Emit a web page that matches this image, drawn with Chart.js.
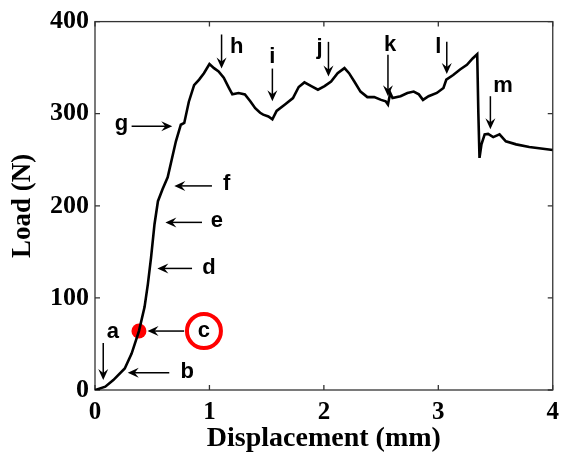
<!DOCTYPE html>
<html>
<head>
<meta charset="utf-8">
<script src="https://cdn.jsdelivr.net/npm/chart.js@4.4.1/dist/chart.umd.min.js"></script>
<style>
  html, body { margin: 0; padding: 0; background: #fff; }
  #box { width: 567px; height: 459px; }
</style>
</head>
<body>
<div id="box"><canvas id="myChart"></canvas></div>
<script>
'use strict';

// load-displacement curve
let dispMM = [0, 0.09, 0.16, 0.26, 0.32, 0.384, 0.433, 0.462, 0.49, 0.52, 0.55, 0.59, 0.635, 0.707, 0.75, 0.78,
  0.82, 0.866, 0.91, 0.952, 1.0, 1.04, 1.08, 1.125, 1.17, 1.2, 1.255, 1.31, 1.357, 1.4, 1.443, 1.47, 1.515,
  1.55, 1.587, 1.66, 1.73, 1.78, 1.83, 1.89, 1.948, 2.006, 2.063, 2.12, 2.18, 2.22, 2.266, 2.32, 2.38, 2.44,
  2.5, 2.54, 2.56, 2.58, 2.6, 2.67, 2.73, 2.785, 2.83, 2.866, 2.915, 2.987, 3.045, 3.07, 3.13, 3.19, 3.25,
  3.3, 3.34, 3.35, 3.36, 3.377, 3.405, 3.435, 3.48, 3.535, 3.59, 3.68, 3.795, 4.0];
let loadN = [0, 3.6, 10.8, 23.4, 39.6, 64, 90, 115, 144, 180, 205, 218, 231, 270, 288, 290,
  313, 331, 337, 344, 354, 349.5, 346, 339, 328, 321, 322.5, 321, 313.5, 306, 301, 299, 297,
  294, 303, 310, 317, 329, 334, 330, 326, 330, 335, 344, 349.5, 344, 335, 324, 318, 318,
  315, 313.5, 310, 322.5, 317, 319, 322.5, 324, 321, 315, 319, 322.5, 328, 337, 342, 348, 353,
  360, 364.6, 300, 252, 266.7, 277.5, 278, 274.6, 277.5, 270, 266.7, 263.8, 260.5];

// highlighted point "c"
let markX = [0.384];
let markY = [64];

let xTicks = [0, 1, 2, 3, 4];
let yTicks = [0, 100, 200, 300, 400];

// labelled arrows: letter, letter pos, arrow tail, arrow head (data units)
let notes = [
  { t: 'a', lx: 0.156, ly: 62.7, x1: 0.072, y1: 51, x2: 0.072, y2: 10.8 },
  { t: 'b', lx: 0.805, ly: 19.5, x1: 0.649, y1: 18.7, x2: 0.286, y2: 18.7 },
  { t: 'c', lx: 0.952, ly: 64, x1: 0.779, y1: 64, x2: 0.459, y2: 64, ring: true },
  { t: 'd', lx: 0.996, ly: 132, x1: 0.848, y1: 132, x2: 0.545, y2: 132 },
  { t: 'e', lx: 1.065, ly: 184, x1: 0.935, y1: 182, x2: 0.615, y2: 182 },
  { t: 'f', lx: 1.15, ly: 224, x1: 1.022, y1: 221.6, x2: 0.693, y2: 221.6 },
  { t: 'g', lx: 0.231, ly: 288.6, x1: 0.32, y1: 286.5, x2: 0.675, y2: 286.5 },
  { t: 'h', lx: 1.238, ly: 373, x1: 1.106, y1: 386, x2: 1.106, y2: 349 },
  { t: 'i', lx: 1.55, ly: 362, x1: 1.55, y1: 349, x2: 1.55, y2: 313.5 },
  { t: 'j', lx: 1.963, ly: 371, x1: 2.04, y1: 378, x2: 2.04, y2: 340.5 },
  { t: 'k', lx: 2.578, ly: 375, x1: 2.56, y1: 364, x2: 2.56, y2: 319 },
  { t: 'l', lx: 3.0, ly: 373, x1: 3.074, y1: 378, x2: 3.074, y2: 343 },
  { t: 'm', lx: 3.565, ly: 330, x1: 3.455, y1: 319, x2: 3.455, y2: 283 }
];

const ctx = document.getElementById('myChart').getContext('2d');
const serif = '"Liberation Serif", "Times New Roman", serif';

let curve = [];
for (let i = 0; i < dispMM.length; i++) {
  curve.push({ x: dispMM[i], y: loadN[i] });
}
let marks = [];
for (let i = 0; i < markX.length; i++) {
  marks.push({ x: markX[i], y: markY[i] });
}

function drawArrow(c, x1, y1, x2, y2) {
  let ang = Math.atan2(y2 - y1, x2 - x1);
  let len = 11;
  let wid = 5;
  c.beginPath();
  c.moveTo(x1, y1);
  c.lineTo(x2 - Math.cos(ang) * 6, y2 - Math.sin(ang) * 6);
  c.stroke();
  c.beginPath();
  c.moveTo(x2, y2);
  c.lineTo(x2 - Math.cos(ang) * len - Math.sin(ang) * wid, y2 - Math.sin(ang) * len + Math.cos(ang) * wid);
  c.lineTo(x2 - Math.cos(ang) * (len - 4), y2 - Math.sin(ang) * (len - 4));
  c.lineTo(x2 - Math.cos(ang) * len + Math.sin(ang) * wid, y2 - Math.sin(ang) * len - Math.cos(ang) * wid);
  c.closePath();
  c.fill();
}

let framePlugin = {
  id: 'frame',
  beforeDatasetsDraw(chart) {
    let c = chart.ctx;
    let a = chart.chartArea;
    let xs = chart.scales.x;
    let ys = chart.scales.y;
    c.save();
    c.strokeStyle = '#333';
    c.lineWidth = 1.3;
    c.strokeRect(a.left, a.top, a.right - a.left, a.bottom - a.top);
    // inward ticks on all sides
    c.beginPath();
    for (let i = 0; i < xTicks.length; i++) {
      let px = xs.getPixelForValue(xTicks[i]);
      c.moveTo(px, a.bottom); c.lineTo(px, a.bottom - 5);
      c.moveTo(px, a.top); c.lineTo(px, a.top + 5);
    }
    for (let i = 0; i < yTicks.length; i++) {
      let py = ys.getPixelForValue(yTicks[i]);
      c.moveTo(a.left, py); c.lineTo(a.left + 5, py);
      c.moveTo(a.right, py); c.lineTo(a.right - 5, py);
    }
    c.stroke();
    c.restore();
  },
  afterDatasetsDraw(chart) {
    let c = chart.ctx;
    let xs = chart.scales.x;
    let ys = chart.scales.y;
    c.save();
    c.strokeStyle = '#000';
    c.fillStyle = '#000';
    c.lineWidth = 1.5;
    c.font = 'bold 22px "Liberation Sans", Arial, sans-serif';
    c.textAlign = 'center';
    c.textBaseline = 'middle';
    for (let i = 0; i < notes.length; i++) {
      let n = notes[i];
      drawArrow(c, xs.getPixelForValue(n.x1), ys.getPixelForValue(n.y1),
        xs.getPixelForValue(n.x2), ys.getPixelForValue(n.y2));
      let lx = xs.getPixelForValue(n.lx);
      let ly = ys.getPixelForValue(n.ly);
      c.fillText(n.t, lx, ly);
      if (n.ring) {
        c.save();
        c.strokeStyle = '#f00';
        c.lineWidth = 4;
        c.beginPath();
        c.arc(lx, ly, 17, 0, Math.PI * 2);
        c.stroke();
        c.restore();
      }
    }
    c.restore();
  }
};

let chartObject = {
  type: 'line',
  data: {
    datasets: [{
      label: 'Load',
      data: curve,
      borderColor: '#000',
      borderWidth: 2.6,
      pointRadius: 0,
      tension: 0,
      fill: false
    },
    {
      label: 'Point c',
      data: marks,
      showLine: false,
      pointRadius: 7.5,
      pointBackgroundColor: '#f00',
      pointBorderColor: '#f00',
      pointBorderWidth: 0
    }]
  },
  options: {
    responsive: true,
    maintainAspectRatio: false,
    animation: false,
    layout: { padding: { top: 20, right: 10, left: 0, bottom: 0 } },
    plugins: {
      legend: { display: false },
      tooltip: { enabled: false }
    },
    scales: {
      x: {
        type: 'linear',
        min: 0,
        max: 4,
        afterFit(scale) { scale.height = 69; },
        afterBuildTicks(scale) { scale.ticks = xTicks.map(v => ({ value: v })); },
        grid: { display: false, drawTicks: false },
        border: { display: false },
        ticks: {
          color: '#000',
          padding: 8,
          maxRotation: 0,
          font: { family: serif, size: 25, weight: 'bold' }
        },
        title: {
          display: true,
          text: 'Displacement (mm)',
          color: '#000',
          padding: { top: 0, bottom: 3 },
          font: { family: serif, size: 28, weight: 'bold' }
        }
      },
      y: {
        type: 'linear',
        min: 0,
        max: 400,
        afterFit(scale) { scale.width = 95; },
        afterBuildTicks(scale) { scale.ticks = yTicks.map(v => ({ value: v })); },
        grid: { display: false, drawTicks: false },
        border: { display: false },
        ticks: {
          color: '#000',
          padding: 6,
          font: { family: serif, size: 26, weight: 'bold' }
        },
        title: {
          display: true,
          text: 'Load (N)',
          color: '#000',
          padding: { top: 7, bottom: 0 },
          font: { family: serif, size: 27, weight: 'bold' }
        }
      }
    }
  },
  plugins: [framePlugin]
};

new Chart(ctx, chartObject);
</script>
</body>
</html>
